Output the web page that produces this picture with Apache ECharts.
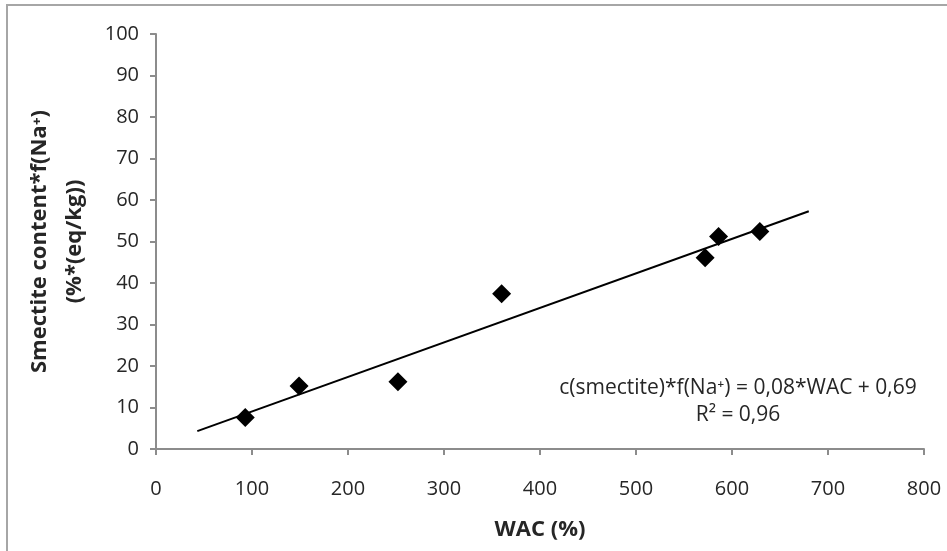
<!DOCTYPE html>
<html>
<head>
<meta charset="utf-8">
<script src="https://cdn.jsdelivr.net/npm/echarts@6/dist/echarts.min.js"></script>
<style>
  html, body { margin: 0; padding: 0; background: #fff; }
  #chart { width: 947px; height: 551px; }
</style>
</head>
<body>
<div id="chart"></div>
<script>
// Water adsorption capacity (WAC, %) vs. smectite content weighted by Na+ fraction
const wac = [93, 149, 252, 360, 572, 586, 629];
const smectiteNa = [7.6, 15.2, 16.2, 37.4, 46.1, 51.2, 52.4];

// Linear trendline end points
const trendWac = [43, 680];
const trendSmectite = [4.3, 57.3];

const xTicks = { min: 0, max: 800, interval: 100 };
const yTicks = { min: 0, max: 100, interval: 10 };

const equationLines = ['c(smectite)*f(Na\u207A) = 0,08*WAC + 0,69', 'R\u00B2 = 0,96'];

const font = '"Open Sans", "Liberation Sans", sans-serif';
const axisGray = '#8c8c8c';
const textColor = '#262626';

const chart = echarts.init(document.getElementById('chart'));
chart.setOption({
  animation: false,
  backgroundColor: '#fff',
  grid: { left: 156, right: 23, top: 34, bottom: 102, containLabel: false },
  xAxis: {
    type: 'value',
    min: xTicks.min, max: xTicks.max, interval: xTicks.interval,
    name: 'WAC (%)',
    nameLocation: 'middle',
    nameGap: 70,
    nameTextStyle: { fontFamily: font, fontSize: 22, fontWeight: 'bold', color: textColor },
    axisLine: { lineStyle: { color: axisGray, width: 2 } },
    axisTick: { show: true, length: 6, inside: false, lineStyle: { color: axisGray, width: 2 } },
    axisLabel: { margin: 30, fontFamily: font, fontSize: 20, color: textColor },
    splitLine: { show: false }
  },
  yAxis: {
    type: 'value',
    min: yTicks.min, max: yTicks.max, interval: yTicks.interval,
    name: 'Smectite content*f(Na\u207A)\n(%*(eq/kg))',
    nameLocation: 'middle',
    nameGap: 64,
    nameTextStyle: { fontFamily: font, fontSize: 22, fontWeight: 'bold', color: textColor, lineHeight: 35 },
    axisLine: { show: true, lineStyle: { color: axisGray, width: 2 } },
    axisTick: { show: true, length: 6, inside: false, lineStyle: { color: axisGray, width: 2 } },
    axisLabel: { margin: 17, fontFamily: font, fontSize: 20, color: textColor },
    splitLine: { show: false }
  },
  series: [
    {
      type: 'line',
      data: trendWac.map((x, i) => [x, trendSmectite[i]]),
      showSymbol: false,
      symbol: 'none',
      lineStyle: { color: '#000', width: 2 },
      z: 2
    },
    {
      type: 'scatter',
      data: wac.map((x, i) => [x, smectiteNa[i]]),
      symbol: 'diamond',
      symbolSize: 19,
      itemStyle: { color: '#000', opacity: 1 },
      z: 3
    }
  ],
  graphic: [
    {
      type: 'rect',
      shape: { x: 7, y: 5, width: 960, height: 600 },
      style: { fill: 'none', stroke: '#a6a6a6', lineWidth: 2 },
      silent: true,
      z: -1
    },
    {
      type: 'text',
      x: 738, y: 388,
      style: {
        text: equationLines[0],
        font: '21px ' + font,
        fill: textColor,
        textAlign: 'center',
        textVerticalAlign: 'middle'
      }
    },
    {
      type: 'text',
      x: 738, y: 415,
      style: {
        text: equationLines[1],
        font: '21px ' + font,
        fill: textColor,
        textAlign: 'center',
        textVerticalAlign: 'middle'
      }
    }
  ]
});
</script>
</body>
</html>
